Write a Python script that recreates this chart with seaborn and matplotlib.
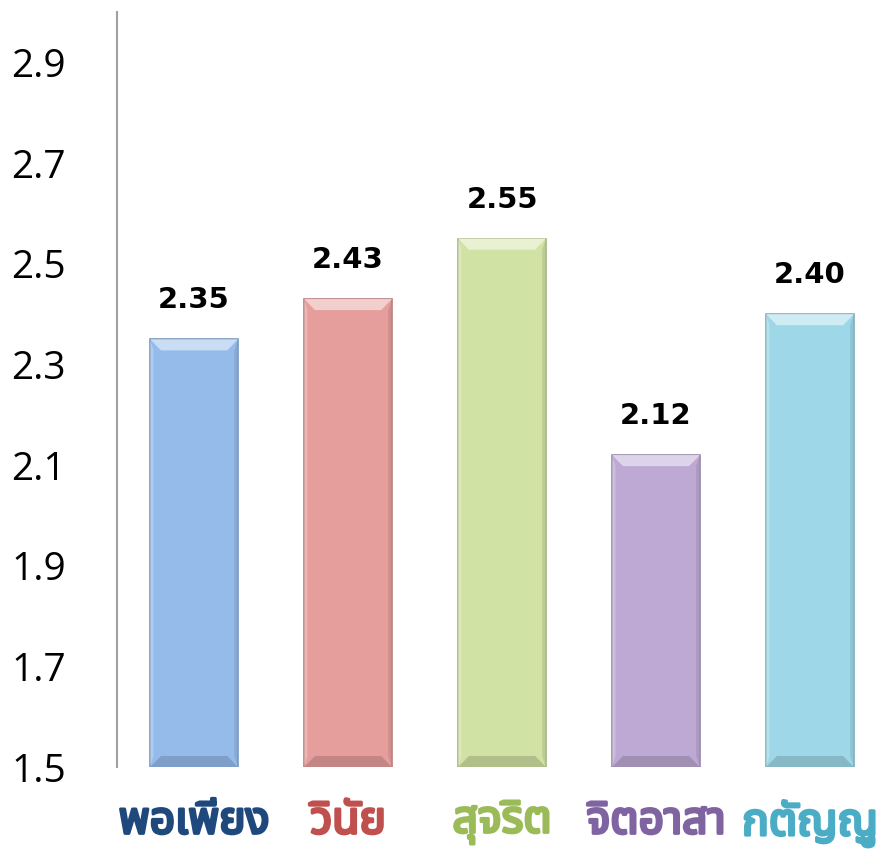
import matplotlib
matplotlib.use("Agg")
import matplotlib.pyplot as plt
import matplotlib.patheffects as pe
import seaborn as sns
import pandas as pd
import numpy as np
from matplotlib.patches import Polygon
import matplotlib.colors as mcolors

categories = ["พอเพียง", "วินัย", "สุจริต", "จิตอาสา", "กตัญญู"]
values = [2.35, 2.43, 2.55, 2.12, 2.40]
y_ticks = [1.5, 1.7, 1.9, 2.1, 2.3, 2.5, 2.7, 2.9]
bar_colors = ["#95BBEB", "#E59E9B", "#D0E2A4", "#BDA9D3", "#9ED8E8"]
label_colors = ["#1F497D", "#C0504D", "#9BBB59", "#8064A2", "#4BACC6"]

sns.set_theme(style="white")
thai_fonts = ["Noto Sans Thai", "Noto Sans Thai UI", "Loma", "Garuda", "Tlwg Typo", "Norasi", "Sarabun", "Tahoma", "Noto Sans", "DejaVu Sans"]
plt.rcParams['font.family'] = ["DejaVu Sans"]

df = pd.DataFrame({"cat": categories, "val": values})

fig = plt.figure(figsize=(8.87, 8.5), dpi=100)
ax = fig.add_axes([0.132, 0.0976, 0.868, 0.888])
sns.barplot(data=df, x="cat", y="val", hue="cat", palette=bar_colors, legend=False,
            width=0.57, ax=ax, saturation=1)

ax.set_ylim(1.5, 3.0)
ax.set_xlim(-0.5, 4.5)
ax.set_yticks(y_ticks)
ax.set_yticklabels([f"{t:.1f}" for t in y_ticks], fontsize=28, color="black",
                   family=["Open Sans", "DejaVu Sans"])
for t in ax.get_yticklabels():
    t.set_horizontalalignment("left")
ax.tick_params(axis='y', length=0, pad=76)
ax.tick_params(axis='x', length=0, pad=24)
ax.set_xticks(range(len(categories)))
ax.set_xticklabels(categories, fontsize=32, fontweight='heavy', family=thai_fonts)
for lbl, c in zip(ax.get_xticklabels(), label_colors):
    lbl.set_color(c)
    lbl.set_path_effects([pe.withStroke(linewidth=2.2, foreground=c)])
ax.set_xlabel("")
ax.set_ylabel("")
for s in ["top", "right", "bottom"]:
    ax.spines[s].set_visible(False)
ax.spines["left"].set_color("#A0A0A0")
ax.spines["left"].set_linewidth(1.5)

bx, by = 0.07, 0.022
for p, c in zip(ax.patches, bar_colors):
    x0 = p.get_x(); w = p.get_width(); y1 = p.get_height(); y0 = 1.5
    rgb = np.array(mcolors.to_rgb(c))
    p.set_edgecolor(tuple(rgb * 0.8))
    p.set_linewidth(1.2)
    light = tuple(np.clip(rgb + (1 - rgb) * 0.5, 0, 1))
    dark = tuple(rgb * 0.85)
    top = Polygon([[x0, y1], [x0 + w, y1], [x0 + w - bx, y1 - by], [x0 + bx, y1 - by]],
                  closed=True, facecolor=light, edgecolor='none', zorder=3)
    bottom = Polygon([[x0, y0], [x0 + w, y0], [x0 + w - bx, y0 + by], [x0 + bx, y0 + by]],
                     closed=True, facecolor=dark, edgecolor='none', zorder=3)
    right = Polygon([[x0 + w, y1], [x0 + w, y0], [x0 + w - bx * 0.35, y0 + by], [x0 + w - bx * 0.35, y1 - by]],
                    closed=True, facecolor=dark, edgecolor='none', zorder=3, alpha=0.6)
    left = Polygon([[x0, y1], [x0, y0], [x0 + bx * 0.3, y0 + by], [x0 + bx * 0.3, y1 - by]],
                   closed=True, facecolor=light, edgecolor='none', zorder=3, alpha=0.5)
    for poly in (top, bottom, right, left):
        ax.add_patch(poly)
    ax.text(x0 + w / 2, y1 + 0.05, f"{y1:.2f}", ha='center', va='bottom',
            fontsize=21, fontweight='bold', color='black', family=["DejaVu Sans"])

fig.savefig("out.png", dpi=100)
